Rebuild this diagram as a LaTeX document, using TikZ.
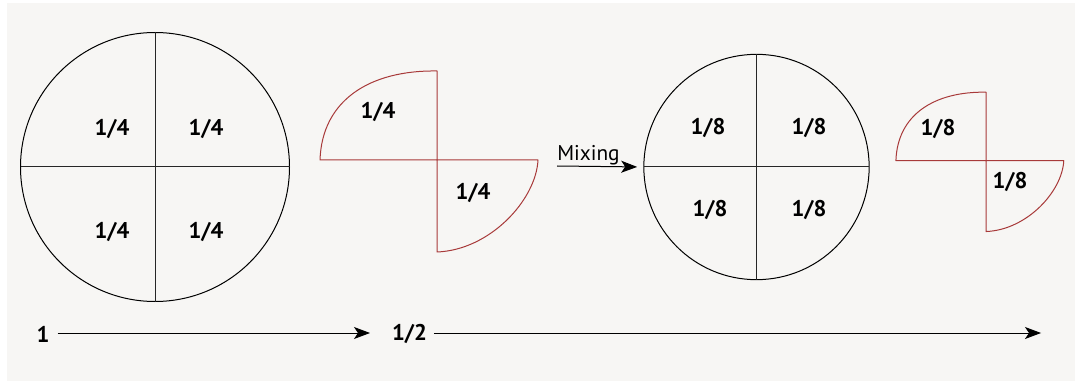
\documentclass[tikz,border=0pt]{standalone}
\usepackage{fontspec}
\setmainfont{PT Sans}
\usetikzlibrary{arrows.meta}
\definecolor{bgcol}{HTML}{F7F6F4}
\definecolor{redq}{HTML}{A83A3A}
\begin{document}
\begin{tikzpicture}[x=0.75pt,y=-0.75pt,
  lbl/.style={font=\bfseries\fontsize{17}{20}\selectfont, inner sep=0pt},
  pie/.style={draw=black, line width=0.75pt, circle, inner sep=0pt, outer sep=0pt},
  divider/.style={draw=black!85, line width=0.75pt},
  arr/.style={draw=black, line width=0.75pt, -{Stealth[length=12pt,width=9pt,inset=3pt]}},
  quarters/.pic={\draw[redq, line width=0.75pt, line join=round]
      (-117,0) .. controls (-115,-60) and (-67,-90) .. (0,-89)
      -- (0,92) .. controls (53,90) and (99,40) .. (101,0) -- cycle;}
]
\fill[white] (0,0) rectangle (1075,381);
\useasboundingbox (0,0) rectangle (1075,381);
\fill[bgcol] (7,3) rectangle (1075,381);

% big circle
\node[pie, minimum size=201.75pt] (c1) at (155,167) {};
\draw[divider] (c1.north) -- (c1.south);
\draw[divider] (c1.west) -- (c1.east);
\node[lbl] (a1) at (112,129) {1/4};
\node[lbl] (a2) at (206,129) {1/4};
\node[lbl] (a3) at (112,232) {1/4};
\node[lbl] (a4) at (206,232) {1/4};

% first red quarters
\pic at (437,160) {quarters};
\node[lbl] (b1) at (378,112) {1/4};
\node[lbl] (b2) at (473,193) {1/4};

% mixing arrow and second circle
\node[pie, minimum size=169pt] (c2) at (756.5,167) {};
\draw[divider] (c2.north) -- (c2.south);
\draw[divider] (c2.west) -- (c2.east);
\node[lbl] (d1) at (708,128) {1/8};
\node[lbl] (d2) at (809,128) {1/8};
\node[lbl] (d3) at (710,210) {1/8};
\node[lbl] (d4) at (809,210) {1/8};

\coordinate (mixstart) at (557,166);
\draw[arr, shorten >=5pt] (mixstart) -- (c2.west);
\node[font=\fontsize{16}{19}\selectfont, inner sep=0pt, anchor=base west] (mixlbl) at (557,161) {Mixing};

% second red quarters
\pic[scale=0.77] at (986,160.7) {quarters};
\node[lbl] (e1) at (938,129) {1/8};
\node[lbl] (e2) at (1010,182) {1/8};

% bottom arrows
\node[lbl] (one) at (43,334) {1};
\coordinate (end1) at (370,333);
\draw[arr, shorten <=6pt] (one.east |- end1) -- (end1);
\node[lbl] (half) at (409.5,334) {1/2};
\coordinate (end2) at (1041,333);
\draw[arr, shorten <=5pt] (half.east |- end2) -- (end2);
\end{tikzpicture}
\end{document}
